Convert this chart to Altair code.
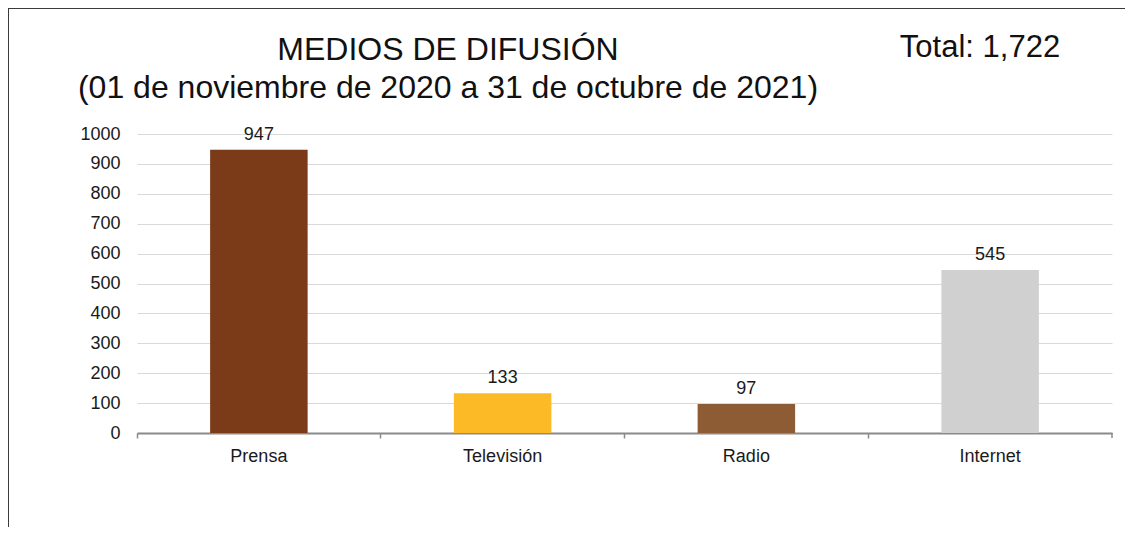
import altair as alt
import pandas as pd

categories = ["Prensa", "Televisión", "Radio", "Internet"]
values = [947, 133, 97, 545]
colors = ["#7B3A18", "#FBBA26", "#8D5C34", "#D0D0D0"]
y_ticks = [0, 100, 200, 300, 400, 500, 600, 700, 800, 900, 1000]
title_line1 = "MEDIOS DE DIFUSIÓN"
title_line2 = "(01 de noviembre de 2020 a 31 de octubre de 2021)"
total_text = "Total: 1,722"

FONT = "Liberation Sans"
df = pd.DataFrame({"medio": categories, "valor": values})

x_scale = alt.Scale(paddingInner=0.6, paddingOuter=0.3)
y_scale = alt.Scale(domain=[0, 1000], nice=False)

x_axis = alt.Axis(
    labelAngle=0,
    labelFont=FONT,
    labelFontSize=18,
    labelColor="#1a1a1a",
    labelPadding=9,
    bandPosition=-0.75,
    tickSize=5,
    tickColor="#8a8a8a",
    tickWidth=1.5,
    domainColor="#8a8a8a",
    domainWidth=2,
    grid=False,
)
y_axis = alt.Axis(
    values=y_ticks,
    format="d",
    labelFont=FONT,
    labelFontSize=18,
    labelColor="#1a1a1a",
    labelPadding=17,
    labelOverlap=False,
    ticks=False,
    domain=False,
    grid=True,
    gridColor="#d9d9d9",
    gridWidth=1.2,
)

x_enc = alt.X("medio:N", sort=categories, title=None, scale=x_scale, axis=x_axis)
y_enc = alt.Y("valor:Q", title=None, scale=y_scale, axis=y_axis)

bars = alt.Chart(df).mark_bar().encode(
    x=x_enc,
    y=y_enc,
    color=alt.Color("medio:N", scale=alt.Scale(domain=categories, range=colors), legend=None),
)

labels = alt.Chart(df).mark_text(
    font=FONT, fontSize=18, color="#1a1a1a", baseline="alphabetic", dy=-10
).encode(
    x=x_enc,
    y=y_enc,
    text="valor:Q",
)

end_tick = alt.Chart(df.head(1)).mark_rule(color="#8a8a8a", strokeWidth=1.5).encode(
    x=alt.value(975), y=alt.value(299), y2=alt.value(304)
)

t1 = alt.Chart(pd.DataFrame({"t": [title_line1]})).mark_text(
    font=FONT, fontSize=32, color="#111111", align="center", baseline="alphabetic"
).encode(text="t:N", x=alt.value(311), y=alt.value(-74))

t2 = alt.Chart(pd.DataFrame({"t": [title_line2]})).mark_text(
    font=FONT, fontSize=32, color="#111111", align="center", baseline="alphabetic"
).encode(text="t:N", x=alt.value(311), y=alt.value(-36))

t3 = alt.Chart(pd.DataFrame({"t": [total_text]})).mark_text(
    font=FONT, fontSize=31, color="#111111", align="center", baseline="alphabetic"
).encode(text="t:N", x=alt.value(843), y=alt.value(-77))

frame_left = alt.Chart(df.head(1)).mark_rule(color="#3a3a3a", strokeWidth=2).encode(
    x=alt.value(-129), y=alt.value(-126), y2=alt.value(394)
)
frame_top = alt.Chart(df.head(1)).mark_rule(color="#3a3a3a", strokeWidth=2).encode(
    x=alt.value(-130), x2=alt.value(990), y=alt.value(-126)
)

chart = alt.layer(
    bars, labels, end_tick, t1, t2, t3, frame_left, frame_top
).properties(
    width=975,
    height=299,
    background="white",
    padding={"left": 129, "top": 126, "right": 13, "bottom": 94},
    autosize=alt.AutoSizeParams(type="none"),
).configure_view(stroke="transparent", strokeWidth=0)

chart.save("out.html", embed_options={"renderer": "svg", "actions": False})
